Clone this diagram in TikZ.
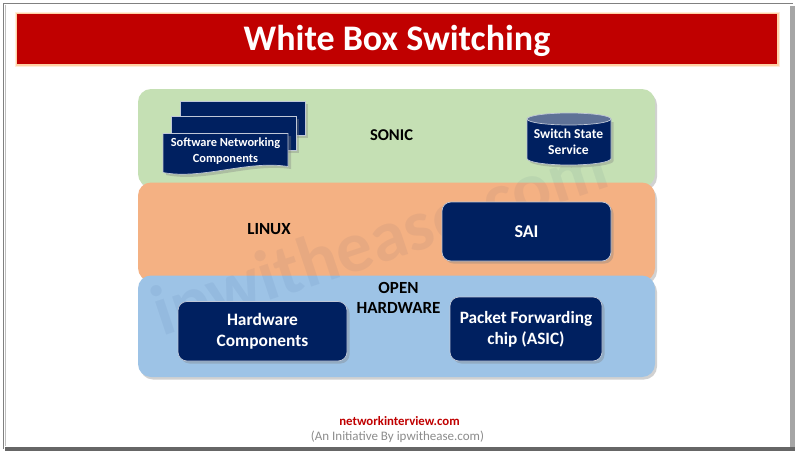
\documentclass[tikz,border=0pt]{standalone}
\usepackage{fontspec}
\setmainfont{Carlito}
\usetikzlibrary{shapes.geometric,calc}
\definecolor{navy}{HTML}{002060}
\definecolor{titlered}{HTML}{C00000}
\definecolor{pgreen}{HTML}{C5E0B4}
\definecolor{porange}{HTML}{F4B183}
\definecolor{pblue}{HTML}{9DC3E6}
\definecolor{cyltop}{HTML}{5F7297}
\tikzset{
  panel/.style={fill=#1,rounded corners=13pt,draw=none},
  panelshadow/.style={fill=black!45,opacity=.4,rounded corners=13pt,draw=none},
  darkbox/.style={fill=navy,draw=white!75!navy,line width=.7pt,rounded corners=9pt},
  boxshadow/.style={fill=black!50,opacity=.35,draw=none},
  lighttext/.style={text=white,font=\bfseries,align=center,inner sep=0pt},
  blacktext/.style={text=black,font=\bfseries,align=center,inner sep=0pt},
}
\begin{document}
\begin{tikzpicture}[x=1pt,y=-1pt]
\useasboundingbox (0,0) rectangle (800,455);
\fill[white] (0,0) rectangle (800,455);
% frame
\fill[black!35] (790,6) rectangle (795,450);
\fill[black!60] (5,447) rectangle (795,450.5);
\draw[black!50,line width=1.2pt] (793,3.5) -- (3.5,3.5) -- (3.5,449);
\draw[black!25,line width=1pt] (5.5,5) -- (5.5,446);
% title
\fill[orange!15] (15,11.5) rectangle (779.5,67);
\fill[orange!35] (15.5,12.5) rectangle (778.5,65.5);
\node[fill=titlered,minimum width=760pt,minimum height=50pt,inner sep=0pt,anchor=north west] (title) at (17,14) {};
\node[text=white,font=\fontsize{36}{36}\bfseries,inner sep=0pt] (titletext) at (397,41) {White Box Switching};
% panels
\fill[panelshadow] (140,92) rectangle (657,190);
\fill[panel=pgreen] (138,89) rectangle (655,187);
\fill[panelshadow] (140,186) rectangle (657,284);
\fill[panel=porange] (138,182.5) rectangle (655,281);
\fill[panelshadow] (140,279) rectangle (657,379.5);
\fill[panel=pblue] (138,275.5) rectangle (655,377);
% watermark
\node[rotate=18.5,text=navy,opacity=.05,font=\fontsize{72}{72}\bfseries,inner sep=0pt] (wm) at (381,243) {ipwithease.com};
% document stack
\fill[boxshadow] (183,104) rectangle (308,138);
\draw[fill=navy,draw=white!75!navy,line width=.7pt] (180,101.5) rectangle (305,135);
\fill[boxshadow] (174,118.5) rectangle (299,152.5);
\draw[fill=navy,draw=white!75!navy,line width=.7pt] (171,116) rectangle (296,150);
\fill[boxshadow] (166,136) -- (291,136) -- (291,169) .. controls (250,163) and (205,183) .. (166,175) -- cycle;
\draw[fill=navy,draw=white!75!navy,line width=.7pt] (163,133.5) -- (288,133.5) -- (288,166.5) .. controls (247,160) and (202,180) .. (163,172.5) -- cycle;
\node[lighttext,font=\fontsize{12.4}{15.5}\bfseries] (docs) at (225.5,151) {Software Networking\\Components};
% cylinder
\fill[boxshadow] (529.5,122) -- (529.5,161) arc[start angle=180,end angle=0,x radius=42,y radius=6.5] -- (613.5,122) -- cycle;
\draw[fill=navy,draw=white!75!navy,line width=.7pt] (527,119) -- (527,158.5) arc[start angle=180,end angle=0,x radius=42,y radius=6.5] -- (611,119) -- cycle;
\draw[fill=cyltop,draw=white!75!navy,line width=.7pt] (569,119) ellipse[x radius=42,y radius=6];
\node[lighttext,font=\fontsize{13.6}{16.5}\bfseries] (sss) at (568.5,142) {Switch State\\Service};
% SAI
\fill[boxshadow,rounded corners=9pt] (444.5,204.5) rectangle (613.5,263.5);
\draw[darkbox] (442,202) rectangle (611,261);
\node[lighttext,font=\fontsize{18}{18}\bfseries] (sai) at (526.5,231.5) {SAI};
% hardware
\fill[boxshadow,rounded corners=9pt] (180.5,304) rectangle (349.5,363.5);
\draw[darkbox] (178,301.5) rectangle (347,361);
\node[lighttext,font=\fontsize{17.4}{21}\bfseries] (hw) at (262.5,331.5) {Hardware\\Components};
% packet
\fill[boxshadow,rounded corners=9pt] (452.5,299.5) rectangle (604.5,363.5);
\draw[darkbox] (450,297) rectangle (602,361);
\node[lighttext,font=\fontsize{17.3}{21}\bfseries] (pkt) at (526,329) {Packet Forwarding\\chip (ASIC)};
% labels
\node[blacktext,font=\fontsize{16.5}{16.5}\bfseries] (sonic) at (391.5,135) {SONIC};
\node[blacktext,font=\fontsize{17}{17}\bfseries] (linux) at (269,229.5) {LINUX};
\node[blacktext,font=\fontsize{17}{20}\bfseries] (open) at (398.5,298) {OPEN\\HARDWARE};
% footer
\node[text=titlered,font=\fontsize{12.8}{12.8}\bfseries,inner sep=0pt] (site) at (399.5,421) {networkinterview.com};
\node[text=black!45,font=\fontsize{13}{13}\selectfont,inner sep=0pt] (init) at (397.5,436.5) {(An Initiative By ipwithease.com)};
\end{tikzpicture}
\end{document}
